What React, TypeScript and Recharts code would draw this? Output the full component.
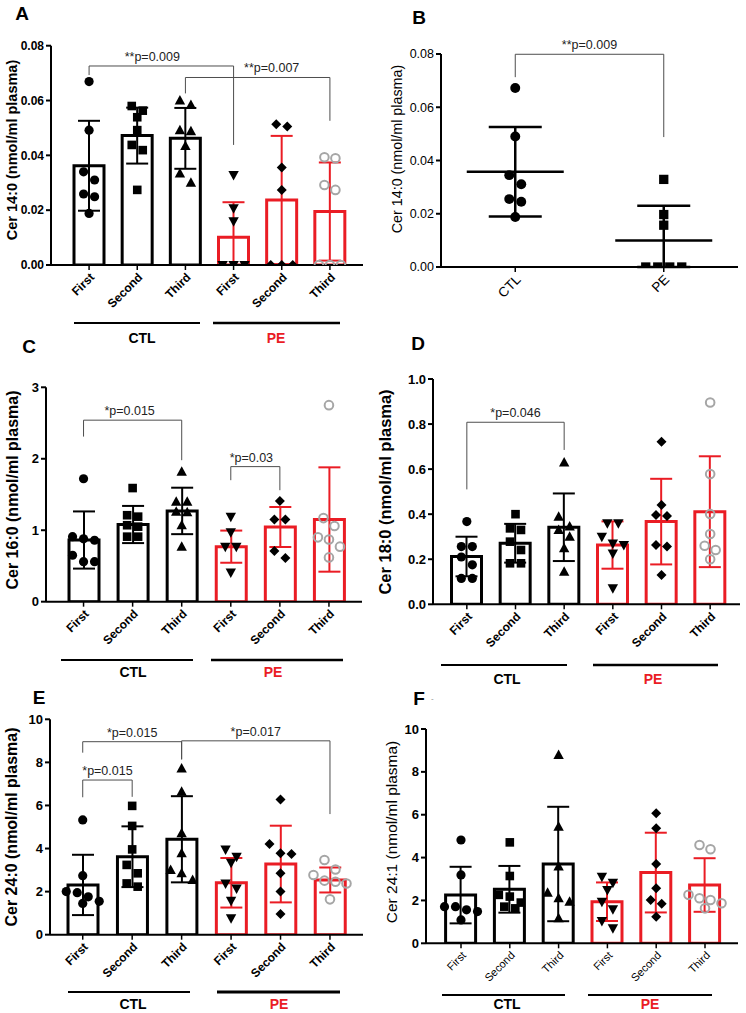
import React from 'react'
import { ComposedChart, Bar, Cell, ErrorBar, Scatter, XAxis, YAxis, ReferenceLine } from 'recharts'

const FONT = '"Liberation Sans", Arial, sans-serif'
const RED = '#ea1c24'
const GREY = '#a6a6a6'
const BRACKET = '#4d4d4d'
const XH = 60

// categories: CTL and PE, three trimesters each
const groupIds = ['c1', 'c2', 'c3', 'p1', 'p2', 'p3']
const trimesterLabels = ['First', 'Second', 'Third', 'First', 'Second', 'Third']
const markerKinds = ['circle', 'square', 'up', 'down', 'diamond', 'ring']

// A - Cer 14:0 by trimester
const cer14Mean = [0.0362, 0.0472, 0.0462, 0.0101, 0.0237, 0.0195]
const cer14Sd = [0.0164, 0.0102, 0.0111, 0.0128, 0.0234, 0.0179]
const cer14Points = [
  [0.0669, 0.0492, 0.034, 0.031, 0.0259, 0.0249, 0.0188],
  [0.058, 0.0563, 0.0539, 0.0492, 0.0438, 0.0419, 0.0274],
  [0.06, 0.0584, 0.0492, 0.0488, 0.0434, 0.0334, 0.03],
  [0.0328, 0.0207, 0.016, 0, 0, 0],
  [0.0513, 0.0505, 0.0356, 0.0274, 0, 0, 0],
  [0.0393, 0.0389, 0.0292, 0.0274, 0, 0, 0],
]

// B - Cer 14:0, CTL vs PE
const cer14Groups = ['CTL', 'PE']
const cer14GroupMean = [0.0358, 0.01]
const cer14GroupSd = [0.0168, 0.013]
const cer14GroupPoints = [
  [0.0672, 0.049, 0.0345, 0.0311, 0.0255, 0.0245, 0.0188],
  [0.0329, 0.0197, 0.0157, 0, 0, 0, 0],
]

// C - Cer 16:0
const cer16Mean = [0.863, 1.08, 1.27, 0.77, 1.045, 1.15]
const cer16Sd = [0.4, 0.26, 0.325, 0.225, 0.28, 0.73]
const cer16Points = [
  [1.72, 0.91, 0.88, 0.86, 0.65, 0.56, 0.56],
  [1.59, 1.21, 1.19, 1.07, 1.05, 0.91, 0.91],
  [1.82, 1.4, 1.4, 1.26, 1.25, 1.07, 0.77],
  [1.19, 0.97, 0.77, 0.77, 0.41],
  [1.41, 1.15, 1.15, 0.71, 0.61],
  [2.75, 1.17, 1.06, 0.9, 0.87, 0.77, 0.62],
]

// D - Cer 18:0
const cer18Mean = [0.212, 0.271, 0.342, 0.263, 0.367, 0.411]
const cer18Sd = [0.088, 0.086, 0.15, 0.105, 0.19, 0.246]
const cer18Points = [
  [0.367, 0.256, 0.256, 0.21, 0.175, 0.115, 0.115],
  [0.4, 0.337, 0.33, 0.278, 0.241, 0.182, 0.182],
  [0.629, 0.389, 0.345, 0.33, 0.3, 0.249, 0.145],
  [0.36, 0.36, 0.3, 0.27, 0.263, 0.226, 0.071],
  [0.722, 0.441, 0.396, 0.392, 0.263, 0.256, 0.13],
  [0.896, 0.578, 0.401, 0.312, 0.26, 0.241, 0.2],
]

// E - Cer 24:0
const cer24Mean = [2.31, 3.62, 4.43, 2.41, 3.28, 2.54]
const cer24Sd = [1.4, 1.41, 2.0, 1.15, 1.78, 0.58]
const cer24Points = [
  [5.33, 2.74, 2.0, 1.95, 1.76, 1.55, 1.45],
  [5.98, 5.05, 3.96, 3.24, 2.85, 2.38, 2.23],
  [7.72, 6.64, 4.71, 3.78, 3.0, 2.85, 2.54],
  [3.96, 3.62, 3.34, 2.38, 2.15, 1.58, 0.76],
  [6.28, 4.21, 3.78, 3.75, 2.85, 2.0, 0.96],
  [3.47, 3.03, 2.77, 2.51, 2.46, 2.38, 1.64],
]

// F - Cer 24:1
const cer241Mean = [2.25, 2.52, 3.7, 1.94, 3.3, 2.72]
const cer241Sd = [1.32, 1.09, 2.67, 0.9, 1.86, 1.25]
const cer241Points = [
  [4.82, 3.19, 1.71, 1.71, 1.56, 1.48, 1.09],
  [4.71, 3.14, 2.26, 2.18, 1.9, 1.71, 1.63],
  [8.79, 5.44, 3.58, 2.36, 2.1, 1.94, 1.17],
  [3.11, 2.83, 2.49, 1.94, 1.59, 1.04, 0.7],
  [6.07, 5.37, 3.7, 2.57, 2.02, 1.84, 1.24],
  [4.59, 4.39, 2.26, 2.1, 2.02, 1.87, 1.63],
]

type Bracket = { from: string; to: string; top: number; legFrom: number; legTo: number; text: string; dx?: number }

const cer14Brackets: Bracket[] = [
  { from: 'c1', to: 'p1', top: 0.0726, legFrom: 0.0693, legTo: 0.0438, text: '**p=0.009', dx: -9 },
  { from: 'c3', to: 'p3', top: 0.0684, legFrom: 0.0626, legTo: 0.0526, text: '**p=0.007', dx: 14 },
]
const cer14GroupBrackets: Bracket[] = [
  { from: 'CTL', to: 'PE', top: 0.0799, legFrom: 0.0713, legTo: 0.0488, text: '**p=0.009' },
]
const cer16Brackets: Bracket[] = [
  { from: 'c1', to: 'c3', top: 2.54, legFrom: 2.31, legTo: 1.98, text: '*p=0.015', dx: -3 },
  { from: 'p1', to: 'p2', top: 1.89, legFrom: 1.7, legTo: 1.56, text: '*p=0.03', dx: -4 },
]
const cer18Brackets: Bracket[] = [
  { from: 'c1', to: 'c3', top: 0.808, legFrom: 0.51, legTo: 0.685, text: '*p=0.046' },
]
const cer24Brackets: Bracket[] = [
  { from: 'c1', to: 'c3', top: 8.96, legFrom: 8.45, legTo: 8.14, text: '*p=0.015' },
  { from: 'c1', to: 'c2', top: 7.18, legFrom: 6.38, legTo: 6.4, text: '*p=0.015' },
  { from: 'c3', to: 'p3', top: 9.0, legFrom: 8.14, legTo: 5.6, text: '*p=0.017' },
]

// spread points that would overlap (sorted descending)
function swarm(vals: number[], ppu: number, thresh = 10, step = 11) {
  const off: number[] = vals.map(() => 0)
  let i = 0
  while (i < vals.length) {
    let j = i + 1
    while (j < vals.length && (vals[i] - vals[j]) * ppu < thresh) j++
    const k = j - i
    for (let m = 0; m < k; m++) off[i + m] = (m - (k - 1) / 2) * step
    i = j
  }
  return off
}

function makeRows(ids: string[], mean: number[], sd: number[], pts: number[][], ppu: number, step = 11) {
  return ids.map((id, k) => {
    const err = [Math.min(sd[k], mean[k]), sd[k]]
    const r: any = { id, mean: mean[k], err, ctlErr: k < 3 ? err : null, peErr: k >= 3 ? err : null }
    const offs = swarm(pts[k], ppu, 10, step)
    pts[k].forEach((v, i) => {
      r['p' + i] = v
      r['o' + i] = offs[i]
    })
    return r
  })
}

function Marker({ cx, cy, kind, s = 1 }: { cx: number; cy: number; kind: string; s?: number }) {
  if (cx == null || cy == null || isNaN(cx) || isNaN(cy)) return <g />
  switch (kind) {
    case 'circle':
      return <circle cx={cx} cy={cy} r={4.6 * s} fill="#000" />
    case 'square':
      return <rect x={cx - 4.3 * s} y={cy - 4.3 * s} width={8.6 * s} height={8.6 * s} fill="#000" />
    case 'up':
      return <polygon points={`${cx},${cy - 5.5} ${cx + 5.2},${cy + 4} ${cx - 5.2},${cy + 4}`} fill="#000" />
    case 'down':
      return <polygon points={`${cx - 5.2},${cy - 4} ${cx + 5.2},${cy - 4} ${cx},${cy + 5.5}`} fill="#000" />
    case 'diamond':
      return <polygon points={`${cx},${cy - 5} ${cx + 5},${cy} ${cx},${cy + 5} ${cx - 5},${cy}`} fill="#000" />
    default:
      return <circle cx={cx} cy={cy} r={4.3} fill="none" stroke={GREY} strokeWidth={2} />
  }
}

function RotTick(props: any) {
  const { x, y, payload, names, size, weight } = props
  const label = names ? names[groupIds.indexOf(payload.value)] : payload.value
  const ax = x + 3
  const ay = y + 3
  return (
    <text x={ax} y={ay} dy="0.35em" textAnchor="end" transform={`rotate(-45 ${ax} ${ay})`}
      fontSize={size} fontWeight={weight} fontFamily={FONT} fill="#000">
      {label}
    </text>
  )
}

function bracketLines(b: Bracket, k: number) {
  const common = { stroke: BRACKET, strokeWidth: 1, ifOverflow: 'visible' as const }
  return [
    <ReferenceLine key={`h${k}`} {...common} segment={[{ x: b.from, y: b.top }, { x: b.to, y: b.top }]}
      label={{ value: b.text, position: 'top', fill: '#222', fontSize: 12.5, fontFamily: FONT, dx: b.dx ?? 0 }} />,
    <ReferenceLine key={`l${k}`} {...common} segment={[{ x: b.from, y: b.legFrom }, { x: b.from, y: b.top }]} />,
    <ReferenceLine key={`r${k}`} {...common} segment={[{ x: b.to, y: b.legTo }, { x: b.to, y: b.top }]} />,
  ]
}

type PanelCfg = {
  left: number; top: number; axisX: number; yTop: number; yBottom: number; plotRight: number
  padL: number; padR: number; yMax: number; ticks: number[]; fmt: (v: number) => string
  yLabel: string; labelX: number; labelY: number; labelSize: number; labelWeight: number
  tickSize: number; xTickSize: number; xTickWeight: number
  mean: number[]; sd: number[]; points: number[][]; brackets: Bracket[]
}

function yLabelContent(cfg: { left: number; top: number; labelX: number; labelY: number; labelSize: number; labelWeight: number; yLabel: string }) {
  return () => {
    const x = cfg.labelX - cfg.left
    const y = cfg.labelY - cfg.top
    return (
      <text x={x} y={y} transform={`rotate(-90 ${x} ${y})`} textAnchor="middle" dominantBaseline="central"
        fontSize={cfg.labelSize} fontWeight={cfg.labelWeight} fontFamily={FONT} fill="#000">
        {cfg.yLabel}
      </text>
    )
  }
}

function BarPanel({ cfg }: { cfg: PanelCfg }) {
  const ppu = (cfg.yBottom - cfg.yTop) / cfg.yMax
  const rows = makeRows(groupIds, cfg.mean, cfg.sd, cfg.points, ppu)
  const nMax = Math.max(...cfg.points.map(a => a.length))
  const h = cfg.yBottom - cfg.top + XH
  const w = cfg.plotRight - cfg.left + 6
  return (
    <div style={{ position: 'absolute', left: cfg.left, top: cfg.top }}>
      <ComposedChart width={w} height={h} data={rows} margin={{ top: cfg.yTop - cfg.top, right: 6, bottom: 0, left: 0 }}>
        <XAxis dataKey="id" type="category" interval={0} height={XH} padding={{ left: cfg.padL, right: cfg.padR }}
          axisLine={{ stroke: '#000', strokeWidth: 2 }} tickLine={{ stroke: '#000', strokeWidth: 1.5 }} tickSize={5}
          tick={(t: any) => <RotTick {...t} names={trimesterLabels} size={cfg.xTickSize} weight={cfg.xTickWeight} />} />
        <YAxis type="number" domain={[0, cfg.yMax]} ticks={cfg.ticks} allowDataOverflow width={cfg.axisX - cfg.left}
          tickFormatter={cfg.fmt} axisLine={{ stroke: '#000', strokeWidth: 2 }} tickLine={{ stroke: '#000', strokeWidth: 2 }}
          tickSize={5} tickMargin={2} tick={{ fontSize: cfg.tickSize, fontWeight: 700, fill: '#000', fontFamily: FONT }}
          label={yLabelContent(cfg)} />
        <Bar dataKey="mean" barSize={30} fill="#fff" strokeWidth={3} isAnimationActive={false}>
          {rows.map((r, k) => <Cell key={r.id} stroke={k < 3 ? '#000' : RED} />)}
          <ErrorBar dataKey="ctlErr" width={11} stroke="#000" strokeWidth={2} direction="y" isAnimationActive={false} />
          <ErrorBar dataKey="peErr" width={11} stroke={RED} strokeWidth={2} direction="y" isAnimationActive={false} />
        </Bar>
        {Array.from({ length: nMax }, (_, i) => (
          <Scatter key={i} dataKey={`p${i}`} isAnimationActive={false}
            shape={(s: any) => (
              <Marker cx={s.cx + (s.payload?.[`o${i}`] ?? 0)} cy={s.payload?.[`p${i}`] == null ? NaN : s.cy}
                kind={markerKinds[groupIds.indexOf(s.payload?.id)]} />
            )} />
        ))}
        {cfg.brackets.flatMap((b, k) => bracketLines(b, k))}
      </ComposedChart>
    </div>
  )
}

function DotPanel() {
  const left = 370, top = 0, axisX = 441, yTop = 54, yBottom = 267, plotRight = 738, yMax = 0.08
  const ppu = (yBottom - yTop) / yMax
  const rows = makeRows(cer14Groups, cer14GroupMean, cer14GroupSd, cer14GroupPoints, ppu, 12)
  const kinds = ['circle', 'square']
  const half = (plotRight - axisX) / 4
  const lbl = { left, top, labelX: 397, labelY: 149, labelSize: 14.3, labelWeight: 400, yLabel: 'Cer 14:0 (nmol/ml plasma)' }
  return (
    <div style={{ position: 'absolute', left, top }}>
      <ComposedChart width={plotRight - left + 6} height={yBottom - top + XH} data={rows}
        margin={{ top: yTop - top, right: 6, bottom: 0, left: 0 }}>
        <XAxis dataKey="id" type="category" interval={0} height={XH} padding={{ left: half, right: half }}
          axisLine={{ stroke: '#000', strokeWidth: 2 }} tickLine={{ stroke: '#000', strokeWidth: 1.5 }} tickSize={5}
          tick={(t: any) => <RotTick {...t} size={13.5} weight={400} />} />
        <YAxis type="number" domain={[0, yMax]} ticks={[0, 0.02, 0.04, 0.06, 0.08]} allowDataOverflow width={axisX - left}
          tickFormatter={(v: number) => v.toFixed(2)} axisLine={{ stroke: '#000', strokeWidth: 2 }}
          tickLine={{ stroke: '#000', strokeWidth: 2 }} tickSize={5} tickMargin={2}
          tick={{ fontSize: 12.5, fontWeight: 400, fill: '#000', fontFamily: FONT }} label={yLabelContent(lbl)} />
        <Scatter dataKey="mean" isAnimationActive={false}
          shape={(s: any) => <line x1={s.cx - 48.5} x2={s.cx + 48.5} y1={s.cy} y2={s.cy} stroke="#000" strokeWidth={2.5} />}>
          <ErrorBar dataKey="err" width={26.5} direction="y" stroke="#000" strokeWidth={2.5} isAnimationActive={false} />
        </Scatter>
        {Array.from({ length: 7 }, (_, i) => (
          <Scatter key={i} dataKey={`p${i}`} isAnimationActive={false}
            shape={(s: any) => (
              <Marker cx={s.cx + (s.payload?.[`o${i}`] ?? 0)} cy={s.payload?.[`p${i}`] == null ? NaN : s.cy}
                kind={kinds[cer14Groups.indexOf(s.payload?.id)]} s={1.08} />
            )} />
        ))}
        {cer14GroupBrackets.flatMap((b, k) => bracketLines(b, k))}
      </ComposedChart>
    </div>
  )
}

const panels: PanelCfg[] = [
  {
    left: 0, top: 0, axisX: 51, yTop: 45.7, yBottom: 265, plotRight: 363, padL: 14, padR: 9, yMax: 0.08,
    ticks: [0, 0.02, 0.04, 0.06, 0.08], fmt: v => v.toFixed(2), yLabel: 'Cer 14:0 (nmol/ml plasma)',
    labelX: 12, labelY: 150, labelSize: 14.5, labelWeight: 700, tickSize: 12, xTickSize: 12, xTickWeight: 700,
    mean: cer14Mean, sd: cer14Sd, points: cer14Points, brackets: cer14Brackets,
  },
  {
    left: 0, top: 330, axisX: 46, yTop: 387.3, yBottom: 601.7, plotRight: 362, padL: 13, padR: 8.5, yMax: 3,
    ticks: [0, 1, 2, 3], fmt: v => String(v), yLabel: 'Cer 16:0 (nmol/ml plasma)',
    labelX: 13, labelY: 490, labelSize: 16, labelWeight: 700, tickSize: 13, xTickSize: 12, xTickWeight: 700,
    mean: cer16Mean, sd: cer16Sd, points: cer16Points, brackets: cer16Brackets,
  },
  {
    left: 370, top: 330, axisX: 433, yTop: 379, yBottom: 604.3, plotRight: 740, padL: 9.5, padR: 5.5, yMax: 1,
    ticks: [0, 0.2, 0.4, 0.6, 0.8, 1], fmt: v => v.toFixed(1), yLabel: 'Cer 18:0 (nmol/ml plasma)',
    labelX: 385, labelY: 492, labelSize: 16.5, labelWeight: 700, tickSize: 13, xTickSize: 12, xTickWeight: 700,
    mean: cer18Mean, sd: cer18Sd, points: cer18Points, brackets: cer18Brackets,
  },
  {
    left: 0, top: 650, axisX: 50, yTop: 719.3, yBottom: 934.7, plotRight: 363, padL: 8, padR: 8.3, yMax: 10,
    ticks: [0, 2, 4, 6, 8, 10], fmt: v => String(v), yLabel: 'Cer 24:0 (nmol/ml plasma)',
    labelX: 12, labelY: 827, labelSize: 16, labelWeight: 700, tickSize: 13, xTickSize: 12, xTickWeight: 700,
    mean: cer24Mean, sd: cer24Sd, points: cer24Points, brackets: cer24Brackets,
  },
  {
    left: 370, top: 650, axisX: 426, yTop: 729, yBottom: 943.3, plotRight: 738, padL: 10.6, padR: 8.6, yMax: 10,
    ticks: [0, 2, 4, 6, 8, 10], fmt: v => String(v), yLabel: 'Cer 24:1 (nmol/ml plasma)',
    labelX: 392, labelY: 832, labelSize: 15.5, labelWeight: 400, tickSize: 13, xTickSize: 11, xTickWeight: 400,
    mean: cer241Mean, sd: cer241Sd, points: cer241Points, brackets: [],
  },
]

// group underlines below the trimester labels
const groupBands = [
  { y: 323, ctl: [74, 200], pe: [213, 340], ty: 338, ctlX: 142, peX: 276, peW: 2.5 },
  { y: 660, ctl: [61, 193], pe: [211, 343], ty: 672, ctlX: 133, peX: 273, peW: 2.5 },
  { y: 665, ctl: [441, 567], pe: [593, 718], ty: 679, ctlX: 507, peX: 653, peW: 2.5 },
  { y: 992, ctl: [68, 190], pe: [217, 340], ty: 1004, ctlX: 133, peX: 279, peW: 3 },
  { y: 995, ctl: [442, 565], pe: [588, 712], ty: 1004, ctlX: 507, peX: 650, peW: 2 },
]

const panelLetters = [
  { t: 'A', x: 22, y: 13 }, { t: 'B', x: 419, y: 17 }, { t: 'C', x: 29, y: 346 },
  { t: 'D', x: 418, y: 343 }, { t: 'E', x: 39, y: 697 }, { t: 'F', x: 419, y: 698 },
]

export default function App() {
  return (
    <div style={{ position: 'absolute', left: 0, top: 0, width: 746, height: 1013, background: '#fff', fontFamily: FONT }}>
      {panels.map((p, i) => <BarPanel key={i} cfg={p} />)}
      <DotPanel />
      <svg width={746} height={1013} style={{ position: 'absolute', left: 0, top: 0, pointerEvents: 'none' }}>
        {groupBands.map((g, i) => (
          <g key={i}>
            <line x1={g.ctl[0]} x2={g.ctl[1]} y1={g.y} y2={g.y} stroke="#000" strokeWidth={2} />
            <line x1={g.pe[0]} x2={g.pe[1]} y1={g.y} y2={g.y} stroke="#000" strokeWidth={g.peW} />
            <text x={g.ctlX} y={g.ty} textAnchor="middle" dominantBaseline="central" fontSize={14} fontWeight={700} fontFamily={FONT} fill="#000">CTL</text>
            <text x={g.peX} y={g.ty} textAnchor="middle" dominantBaseline="central" fontSize={14} fontWeight={700} fontFamily={FONT} fill={RED}>PE</text>
          </g>
        ))}
        {panelLetters.map(l => (
          <text key={l.t} x={l.x} y={l.y} textAnchor="middle" dominantBaseline="central" fontSize={19} fontWeight={700} fontFamily={FONT} fill="#000">{l.t}</text>
        ))}
        <text x={431} y={701} fontSize={8} fill="#888" fontFamily={FONT}>-</text>
      </svg>
    </div>
  )
}
